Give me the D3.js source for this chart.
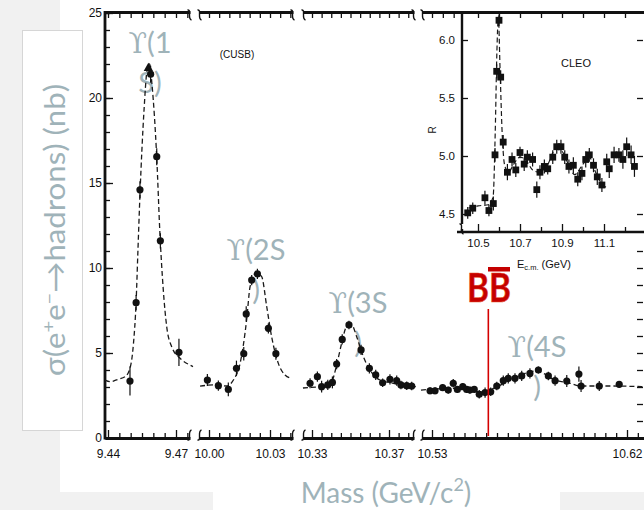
<!DOCTYPE html>
<html>
<head>
<meta charset="utf-8">
<script src="https://cdn.jsdelivr.net/npm/d3@7"></script>
<style>
  html, body { margin: 0; padding: 0; background: #f1f1f1; }
  svg { display: block; }
</style>
</head>
<body>
<svg id="chart" width="644" height="510"></svg>
<script>
// ---------- data ----------
// broken mass axis: two labelled values per segment
const segLabels = [["9.44", "9.47"], ["10.00", "10.03"], ["10.33", "10.37"], ["10.53", "10.62"]];
const sigmaTicks = [0, 5, 10, 15, 20, 25];

// CUSB cross sections (GeV, nb, ±nb)
const upsMass = [9.4497, 9.4524, 9.4541, 9.4588, 9.4615, 9.4631, 9.4713,
  9.9992, 10.0046, 10.0095, 10.0135, 10.0171, 10.0183, 10.0210, 10.0238, 10.0292, 10.0329,
  10.3290, 10.3328, 10.3350, 10.3382, 10.3406, 10.3428, 10.3457, 10.3492, 10.3555, 10.3598,
  10.3631, 10.3667, 10.3705, 10.3740, 10.3762, 10.3792, 10.3818,
  10.5291, 10.5314, 10.5349, 10.5375, 10.5398, 10.5417, 10.5442, 10.5460, 10.5475, 10.5495,
  10.5518, 10.5545, 10.5571, 10.5599, 10.5629, 10.5652, 10.5683, 10.5714, 10.5752, 10.5791,
  10.5837, 10.5868, 10.5922, 10.5978, 10.5988, 10.6072, 10.6164];
const upsSigma = [3.35, 7.96, 14.6, 21.4, 16.55, 11.6, 5.04,
  3.41, 3.08, 2.86, 4.1, 4.96, 7.3, 9.29, 9.65, 6.45, 4.96,
  3.22, 3.61, 3.02, 3.12, 3.27, 4.35, 5.8, 6.65, 5.18, 4.1,
  3.71, 3.25, 3.45, 3.37, 3.12, 3.08, 3.06,
  2.78, 2.78, 2.96, 2.82, 3.22, 2.86, 3.02, 2.86, 2.82, 2.86,
  2.57, 2.67, 2.72, 3.06, 3.37, 3.51, 3.51, 3.65, 3.8, 4.0,
  3.65, 3.37, 3.35, 3.76, 3.06, 3.06, 3.16];
const upsErr = [0.85, 0.45, 0.5, 0.5, 0.5, 0.45, 0.8,
  0.35, 0.3, 0.4, 0.45, 0.4, 0.45, 0.3, 0.3, 0.3, 0.35,
  0.3, 0.3, 0.35, 0.3, 0.35, 0.3, 0.3, 0.25, 0.3, 0.3,
  0.3, 0.25, 0.3, 0.3, 0.25, 0.25, 0.25,
  0.2, 0.2, 0.2, 0.2, 0.25, 0.2, 0.2, 0.2, 0.2, 0.2,
  0.25, 0.3, 0.25, 0.25, 0.3, 0.3, 0.3, 0.3, 0.3, 0.2,
  0.25, 0.3, 0.35, 0.45, 0.35, 0.3, 0.2];
// the single triangle-marked point at the 1S peak
const peakMass = [9.4578];
const peakSigma = [21.75];

// fitted line shapes, one per segment (GeV, nb)
const fit1S = [[9.4387, 3.4], [9.4409, 3.31], [9.4444, 3.45], [9.4475, 3.6], [9.4497, 4.1], [9.4512, 5.5],
  [9.4524, 8.0], [9.4532, 11.0], [9.4541, 14.3], [9.4559, 19.3], [9.4572, 21.6], [9.4583, 22.0],
  [9.4594, 20.8], [9.4615, 16.5], [9.4629, 12.05], [9.4644, 8.7], [9.4659, 6.55], [9.4681, 5.37],
  [9.4718, 4.69], [9.4762, 4.29], [9.4775, 4.2]];
const fit2S = [[9.9956, 3.05], [10.0021, 3.12], [10.0087, 3.06], [10.0120, 3.41], [10.0153, 4.39],
  [10.0185, 6.94], [10.0202, 8.9], [10.0231, 9.72], [10.0259, 9.49], [10.0284, 7.72], [10.0308, 5.96],
  [10.0341, 4.39], [10.0374, 3.71], [10.0407, 3.51]];
const fit3S = [[10.3253, 2.94], [10.3290, 2.98], [10.3359, 3.02], [10.3402, 3.31], [10.3428, 4.29],
  [10.3454, 5.57], [10.3480, 6.55], [10.3506, 6.65], [10.3532, 5.96], [10.3567, 4.78], [10.3601, 4.0],
  [10.3653, 3.41], [10.3722, 3.22], [10.3792, 3.06], [10.3840, 3.02]];
const fit4S = [[10.5249, 2.82], [10.5398, 2.92], [10.5522, 2.72], [10.5583, 2.92], [10.5675, 3.51],
  [10.5785, 3.95], [10.5822, 3.75], [10.5860, 3.45], [10.5937, 3.22], [10.5983, 3.06], [10.6106, 3.06],
  [10.6278, 3.02]];
const fitSegments = [fit1S, fit2S, fit3S, fit4S];

// CLEO R scan (GeV, R, ±R)
const cleoE = [10.451, 10.475, 10.533, 10.552, 10.573, 10.581, 10.589, 10.600, 10.608, 10.620,
  10.640, 10.662, 10.680, 10.700, 10.720, 10.735, 10.760, 10.780, 10.795, 10.816,
  10.832, 10.856, 10.875, 10.895, 10.913, 10.933, 10.954, 10.975, 10.995, 11.013,
  11.030, 11.050, 11.068, 11.090, 11.113, 11.125, 11.148, 11.171, 11.190, 11.208, 11.229, 11.245];
const cleoR = [4.51, 4.55, 4.64, 4.53, 4.59, 5.01, 5.73, 6.17, 5.68, 5.12,
  4.86, 4.97, 4.88, 5.03, 4.93, 4.99, 4.97, 4.71, 4.86, 4.91,
  4.89, 4.99, 5.08, 5.08, 4.99, 4.91, 4.92, 4.80, 4.85, 4.97,
  5.01, 4.92, 4.82, 4.75, 4.95, 4.89, 5.01, 5.01, 4.97, 5.08, 5.01, 4.91];
const cleoErr = [0.05, 0.05, 0.06, 0.05, 0.06, 0.06, 0.06, 0.05, 0.06, 0.06,
  0.07, 0.06, 0.06, 0.05, 0.06, 0.06, 0.06, 0.07, 0.06, 0.06,
  0.05, 0.06, 0.06, 0.06, 0.06, 0.06, 0.07, 0.06, 0.06, 0.07,
  0.06, 0.06, 0.07, 0.06, 0.07, 0.08, 0.07, 0.06, 0.08, 0.08, 0.08, 0.09];
const cleoFit = [[10.455, 4.55], [10.50, 4.57], [10.55, 4.58], [10.572, 4.65], [10.582, 5.2], [10.59, 5.9],
  [10.597, 6.2], [10.605, 5.75], [10.615, 5.2], [10.627, 4.92], [10.645, 4.86], [10.67, 4.93],
  [10.70, 4.99], [10.73, 4.96], [10.76, 4.88], [10.79, 4.86], [10.83, 4.92], [10.87, 5.06],
  [10.90, 5.04], [10.93, 4.93], [10.96, 4.84], [11.00, 4.93], [11.03, 4.99], [11.06, 4.86],
  [11.09, 4.76], [11.11, 4.73]];
const cleoTickLabels = ["10.5", "10.7", "10.9", "11.1"];
const cleoMinorTicks = [10.6, 10.8, 11.0, 11.2];
const cleoRTicks = [4.5, 5.0, 5.5, 6.0];

// open-beauty threshold
const bbThreshold = 10.556;

// text
const resonanceLines = [["ϒ(1", "S)"], ["ϒ(2S", ")"], ["ϒ(3S", ")"], ["ϒ(4S", ")"], ["ϒ(5S/6S)"]];

// ---------- layout ----------
const AX_FONT = "'Liberation Sans', Arial, Helvetica, sans-serif";
const SLIDE_FONT = "Lato, 'Open Sans', 'Noto Sans', sans-serif";
const TEAL = "#9fb3b9";
const INK = "#111";

const svg = d3.select("#chart");

// slide background panels
svg.append("rect").attr("width", 644).attr("height", 510).attr("fill", "#f1f1f1");
svg.append("rect").attr("x", 60).attr("y", 0).attr("width", 584).attr("height", 492).attr("fill", "#fff");
svg.append("rect").attr("x", 213).attr("y", 492).attr("width", 347).attr("height", 18).attr("fill", "#fff");
svg.append("rect").attr("x", 22.5).attr("y", 30.5).attr("width", 60).attr("height", 400)
  .attr("fill", "#fff").attr("stroke", "#d6d6d6");

const gLabels = svg.append("g");
const gAxes = svg.append("g");
const gData = svg.append("g");
const gInset = svg.append("g");
const gTop = svg.append("g");

// main scales
const yMain = d3.scaleLinear().domain([0, 25]).range([438, 13]);
const anchorPx = [[108, 176], [209, 270], [312, 389], [432, 627]];
const extentPx = [[105, 190], [199, 293], [303, 414], [422, 644]];
const xSegs = segLabels.map((lab, i) => {
  const s = d3.scaleLinear().domain(lab.map(Number)).range(anchorPx[i]);
  return s.copy().domain(extentPx[i].map(s.invert)).range(extentPx[i]);
});
function xMain(m) {
  let s = xSegs.find(sc => { const d = sc.domain(); return m >= d[0] - 1e-9 && m <= d[1] + 1e-9; });
  if (!s) s = xSegs[d3.minIndex(xSegs, sc => Math.min(Math.abs(sc.domain()[0] - m), Math.abs(sc.domain()[1] - m)))];
  return s(m);
}

function styleAxis(g, domainWidth) {
  g.select(".domain").attr("stroke", INK).attr("stroke-width", domainWidth);
  g.selectAll(".tick line").attr("stroke", INK).attr("stroke-width", 1.3);
  g.selectAll(".tick text").attr("font-family", AX_FONT).attr("font-size", 12).attr("fill", INK);
}

// small "broken axis" squiggle
function breakMark(g, x, y, dir) {
  const p = d3.path();
  p.moveTo(x - 2.5, y - 2 * dir);
  p.bezierCurveTo(x + 2, y - 3 * dir, x - 3, y + 7 * dir, x + 1.5, y + 8 * dir);
  g.append("path").attr("d", p.toString()).attr("fill", "none").attr("stroke", INK).attr("stroke-width", 1.4);
}

// bottom and top mass axes, one per segment
xSegs.forEach((s, i) => {
  const labs = segLabels[i].map(Number);
  const ticks = s.ticks(i === 3 ? 20 : 10);
  const fmt = d => { const k = labs.findIndex(v => Math.abs(v - d) < 1e-4); return k >= 0 ? segLabels[i][k] : ""; };
  const gb = gAxes.append("g").attr("transform", "translate(0,438)")
    .call(d3.axisBottom(s).tickValues(ticks).tickSize(-5).tickSizeOuter(0).tickPadding(11).tickFormat(fmt));
  styleAxis(gb, 2.8);
  gb.selectAll(".tick").filter(d => fmt(d) !== "").select("line").attr("y2", -8);

  const topTicks = ticks.filter(d => s(d) < 458);
  const gt = gAxes.append("g").attr("transform", "translate(0,12)")
    .call(d3.axisTop(s).tickValues(topTicks).tickSize(-6).tickSizeOuter(0).tickFormat(""));
  styleAxis(gt, 2.8);

  if (i < 3) { breakMark(gAxes, extentPx[i][1], 438, -1); breakMark(gAxes, extentPx[i][1], 12, 1); }
  if (i > 0) { breakMark(gAxes, extentPx[i][0] + 1, 438, -1); breakMark(gAxes, extentPx[i][0] + 1, 12, 1); }
});

// left cross-section axis
const gMinor = gAxes.append("g").attr("transform", "translate(105,0)")
  .call(d3.axisLeft(yMain).tickValues(d3.range(0, 26)).tickSize(-5).tickSizeOuter(0).tickFormat(""));
styleAxis(gMinor, 2.8);
gMinor.select(".domain").attr("d", "M0,439.5V11");
const gMajor = gAxes.append("g").attr("transform", "translate(105,0)")
  .call(d3.axisLeft(yMain).tickValues(sigmaTicks).tickSize(-8).tickPadding(3).tickFormat(d3.format("d")));
styleAxis(gMajor, 0);
gMajor.select(".domain").remove();

// right-hand ticks of the main frame
const gRight = gAxes.append("g").attr("transform", "translate(643,0)")
  .call(d3.axisLeft(yMain).tickValues(d3.range(0, 12)).tickSize(6).tickFormat(""));
styleAxis(gRight, 0);
gRight.select(".domain").remove();

// fitted line shapes
fitSegments.forEach((pts, i) => {
  const line = d3.line().x(d => xSegs[i](d[0])).y(d => yMain(d[1])).curve(d3.curveMonotoneX);
  gData.append("path").attr("d", line(pts)).attr("fill", "none")
    .attr("stroke", "#1a1a1a").attr("stroke-width", 1.3).attr("stroke-dasharray", "5,3");
});

// CUSB points with error bars
const mainPts = upsMass.map((m, i) => ({ m, s: upsSigma[i], e: upsErr[i] }));
gData.selectAll("line.err").data(mainPts).join("line").attr("class", "err")
  .attr("x1", d => xMain(d.m)).attr("x2", d => xMain(d.m))
  .attr("y1", d => yMain(d.s - d.e)).attr("y2", d => yMain(d.s + d.e))
  .attr("stroke", INK).attr("stroke-width", 1.2);
gData.selectAll("circle.pt").data(mainPts).join("circle").attr("class", "pt")
  .attr("cx", d => xMain(d.m)).attr("cy", d => yMain(d.s)).attr("r", 3.6).attr("fill", INK);
gData.selectAll("path.tri").data(peakMass).join("path").attr("class", "tri")
  .attr("transform", (d, i) => `translate(${xMain(d)},${yMain(peakSigma[i])})`)
  .attr("d", d3.symbol(d3.symbolTriangle, 38)).attr("fill", INK);

// ---------- CLEO inset ----------
const ix = d3.scaleLinear().domain([10.5, 11.1]).range([478, 604]);
const iy = d3.scaleLinear().domain([4.5, 6.0]).range([214, 40]);
gInset.append("rect").attr("x", 463).attr("y", 14).attr("width", 181).attr("height", 217).attr("fill", "#fff");

const cleoMajor = cleoTickLabels.map(Number);
const allInsetTicks = cleoMajor.concat(cleoMinorTicks);

const gibMinor = gInset.append("g").attr("transform", "translate(0,232)")
  .call(d3.axisBottom(ix).tickValues(cleoMinorTicks).tickSize(-5).tickFormat(""));
styleAxis(gibMinor, 0);
gibMinor.select(".domain").remove();
const gib = gInset.append("g").attr("transform", "translate(0,232)")
  .call(d3.axisBottom(ix).tickValues(cleoMajor).tickSize(-8).tickPadding(7)
    .tickFormat((d, i) => cleoTickLabels[i]));
styleAxis(gib, 0);
gib.select(".domain").remove();
gib.selectAll(".tick text").attr("font-size", 11.5);

const git = gInset.append("g").attr("transform", "translate(0,12)")
  .call(d3.axisTop(ix).tickValues(allInsetTicks).tickSize(-6).tickFormat(""));
styleAxis(git, 0);
git.select(".domain").remove();

const gil = gInset.append("g").attr("transform", "translate(462,0)")
  .call(d3.axisLeft(iy).tickValues(cleoRTicks).tickSize(-6).tickPadding(7).tickFormat(d3.format(".1f")));
styleAxis(gil, 0);
gil.select(".domain").remove();
gil.selectAll(".tick text").attr("font-size", 11.5);

const gir = gInset.append("g").attr("transform", "translate(643,0)")
  .call(d3.axisLeft(iy).tickValues(cleoRTicks).tickSize(6).tickFormat(""));
styleAxis(gir, 0);
gir.select(".domain").remove();

// inset frame lines (left edge broken near the bottom)
gInset.append("path").attr("d", "M462,12V224 M462,229V232 M457,232H644")
  .attr("stroke", INK).attr("stroke-width", 2.4).attr("fill", "none");
breakMark(gInset, 462, 226, 1);

gInset.append("path")
  .attr("d", d3.line().x(d => ix(d[0])).y(d => iy(d[1])).curve(d3.curveMonotoneX)(cleoFit))
  .attr("fill", "none").attr("stroke", "#1a1a1a").attr("stroke-width", 1.2).attr("stroke-dasharray", "5,3");

const cleoPts = cleoE.map((e, i) => ({ e, r: cleoR[i], d: cleoErr[i] }));
gInset.selectAll("line.cerr").data(cleoPts).join("line").attr("class", "cerr")
  .attr("x1", d => ix(d.e)).attr("x2", d => ix(d.e))
  .attr("y1", d => iy(d.r - d.d)).attr("y2", d => iy(d.r + d.d))
  .attr("stroke", INK).attr("stroke-width", 1.2);
gInset.selectAll("rect.cpt").data(cleoPts).join("rect").attr("class", "cpt")
  .attr("x", d => ix(d.e) - 3.4).attr("y", d => iy(d.r) - 3.4).attr("width", 6.8).attr("height", 6.8)
  .attr("fill", INK);

// inset text
gInset.append("text").attr("x", 576).attr("y", 67).attr("text-anchor", "middle")
  .attr("font-family", AX_FONT).attr("font-size", 11).attr("fill", INK).text("CLEO");
gInset.append("text").attr("transform", "translate(436,130) rotate(-90)").attr("text-anchor", "middle")
  .attr("font-family", AX_FONT).attr("font-size", 10).attr("fill", INK).text("R");
const ecm = gInset.append("text").attr("x", 517).attr("y", 268)
  .attr("font-family", AX_FONT).attr("font-size", 11).attr("fill", INK);
ecm.append("tspan").text("E");
ecm.append("tspan").attr("font-size", 7.5).attr("dy", 2).text("c.m.");
ecm.append("tspan").attr("dy", -2).text(" (GeV)");

// main plot caption
gData.append("text").attr("x", 237).attr("y", 58).attr("text-anchor", "middle")
  .attr("font-family", AX_FONT).attr("font-size", 10).attr("fill", INK).text("(CUSB)");

// ---------- slide annotations ----------
const labelAt = [[150, 53], [256, 260], [358, 313], [537, 357], [571, 123]];
resonanceLines.forEach((lines, i) => {
  lines.forEach((ln, j) => {
    const t = gLabels.append("text").attr("x", labelAt[i][0]).attr("y", labelAt[i][1] + j * 40)
      .attr("text-anchor", "middle").attr("font-family", SLIDE_FONT).attr("font-size", 29).attr("fill", TEAL);
    if (ln.startsWith("ϒ")) {
      t.append("tspan").attr("font-family", "'DejaVu Serif', serif").attr("font-size", 27).text("ϒ");
      t.append("tspan").text(ln.slice(1));
    } else t.text(ln);
  });
});

// open-beauty threshold marker
const xbb = xMain(bbThreshold);
gTop.append("line").attr("x1", xbb).attr("x2", xbb).attr("y1", 309).attr("y2", 436)
  .attr("stroke", "#d40000").attr("stroke-width", 1.6);
gTop.append("text").attr("x", 467).attr("y", 302).attr("font-family", SLIDE_FONT).attr("font-weight", 700)
  .attr("font-size", 40).attr("textLength", 44).attr("lengthAdjust", "spacingAndGlyphs")
  .attr("fill", "#c40000").attr("stroke", "#e8502a").attr("stroke-width", 0.6).text("BB");
gTop.append("rect").attr("x", 488).attr("y", 267).attr("width", 22).attr("height", 4.5).attr("fill", "#c40000");

// axis titles
const yt = gTop.append("text").attr("transform", "translate(65,230) rotate(-90)").attr("text-anchor", "middle")
  .attr("font-family", SLIDE_FONT).attr("font-size", 28).attr("fill", TEAL)
  .attr("textLength", 292).attr("lengthAdjust", "spacingAndGlyphs");
yt.append("tspan").text("σ(e");
yt.append("tspan").attr("font-size", 18).attr("dy", -10).text("+");
yt.append("tspan").attr("dy", 10).text("e");
yt.append("tspan").attr("font-size", 18).attr("dy", -10).text("−");
yt.append("tspan").attr("dy", 10).text("→hadrons) (nb)");

const xt = gTop.append("text").attr("x", 386).attr("y", 503).attr("text-anchor", "middle")
  .attr("font-family", SLIDE_FONT).attr("font-size", 28).attr("fill", TEAL);
xt.append("tspan").text("Mass (GeV/c");
xt.append("tspan").attr("font-size", 18).attr("dy", -12).text("2");
xt.append("tspan").attr("dy", 12).text(")");
</script>
</body>
</html>
